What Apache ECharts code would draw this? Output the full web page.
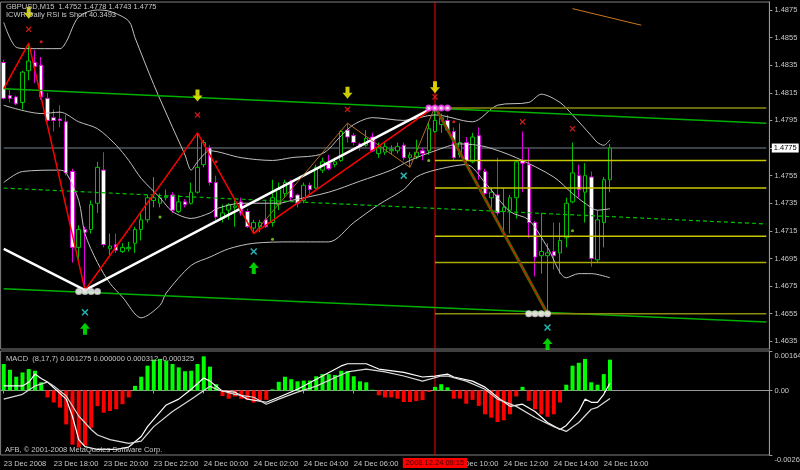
<!DOCTYPE html>
<html><head><meta charset="utf-8">
<script src="https://cdn.jsdelivr.net/npm/echarts@6.0.0/dist/echarts.min.js"></script>
<style>html,body{margin:0;padding:0;background:#000}#c{width:800px;height:470px}</style>
</head><body><div id="c"></div>
<script>
// ---------- DATA ----------
const candleOpen = [1.4837,1.4813,1.4812,1.4808,1.4831,1.4837,1.4835,1.4811,1.4797,1.4796,1.4794,1.4758,1.4703,1.4716,1.4716,1.4735,1.4759,1.4702,1.4705,1.4700,1.4702,1.4706,1.4716,1.4723,1.4737,1.4735,1.4739,1.4741,1.4729,1.4736,1.4735,1.4743,1.4763,1.4775,1.4750,1.4724,1.4730,1.4732,1.4736,1.4729,1.4717,1.4718,1.4723,1.4721,1.4734,1.4742,1.4750,1.4741,1.4737,1.4748,1.4746,1.4759,1.4764,1.4763,1.4766,1.4788,1.4784,1.4778,1.4777,1.4783,1.4771,1.4772,1.4773,1.4773,1.4777,1.4768,1.4769,1.4773,1.4773,1.4787,1.4792,1.4795,1.4787,1.4770,1.4779,1.4765,1.4784,1.4758,1.4739,1.4741,1.4729,1.4730,1.4739,1.4766,1.4763,1.4721,1.4697,1.4697,1.4700,1.4699,1.4710,1.4736,1.4755,1.4743,1.4754,1.4694,1.4721,1.4752];
const candleClose = [1.4811,1.4811,1.4807,1.4830,1.4838,1.4834,1.4812,1.4795,1.4795,1.4795,1.4757,1.4703,1.4716,1.4714,1.4734,1.4761,1.4705,1.4704,1.4701,1.4703,1.4703,1.4716,1.4723,1.4739,1.4739,1.4739,1.4740,1.4730,1.4736,1.4734,1.4743,1.4761,1.4779,1.4750,1.4725,1.4728,1.4734,1.4733,1.4728,1.4718,1.4721,1.4721,1.4718,1.4739,1.4745,1.4750,1.4739,1.4735,1.4748,1.4745,1.4761,1.4765,1.4760,1.4765,1.4787,1.4783,1.4779,1.4776,1.4782,1.4773,1.4775,1.4776,1.4774,1.4776,1.4768,1.4770,1.4772,1.4771,1.4789,1.4795,1.4797,1.4788,1.4768,1.4779,1.4766,1.4783,1.4759,1.4742,1.4743,1.4728,1.4732,1.4739,1.4765,1.4764,1.4721,1.4696,1.4700,1.4699,1.4697,1.4708,1.4735,1.4757,1.4745,1.4755,1.4695,1.4723,1.4752,1.4775];
const candleLow = [1.4810,1.4808,1.4806,1.4803,1.4824,1.4822,1.4810,1.4794,1.4787,1.4790,1.4755,1.4692,1.4694,1.4672,1.4713,1.4728,1.4703,1.4697,1.4699,1.4699,1.4700,1.4699,1.4708,1.4721,1.4732,1.4732,1.4737,1.4728,1.4728,1.4732,1.4734,1.4742,1.4761,1.4748,1.4723,1.4721,1.4723,1.4718,1.4726,1.4717,1.4713,1.4714,1.4717,1.4718,1.4730,1.4739,1.4737,1.4732,1.4735,1.4742,1.4745,1.4757,1.4759,1.4761,1.4765,1.4779,1.4777,1.4773,1.4776,1.4772,1.4768,1.4770,1.4770,1.4771,1.4766,1.4761,1.4767,1.4766,1.4770,1.4786,1.4786,1.4787,1.4766,1.4768,1.4765,1.4764,1.4752,1.4741,1.4730,1.4726,1.4713,1.4713,1.4724,1.4743,1.4710,1.4682,1.4684,1.4655,1.4687,1.4684,1.4703,1.4735,1.4739,1.4721,1.4689,1.4692,1.4703,1.4743];
const candleHigh = [1.4839,1.4817,1.4813,1.4831,1.4851,1.4846,1.4841,1.4815,1.4803,1.4806,1.4799,1.4760,1.4719,1.4718,1.4737,1.4765,1.4772,1.4713,1.4713,1.4706,1.4707,1.4718,1.4728,1.4741,1.4754,1.4742,1.4745,1.4743,1.4741,1.4738,1.4750,1.4786,1.4781,1.4777,1.4755,1.4734,1.4735,1.4739,1.4739,1.4731,1.4723,1.4723,1.4737,1.4752,1.4750,1.4752,1.4752,1.4742,1.4750,1.4750,1.4763,1.4768,1.4770,1.4768,1.4788,1.4793,1.4786,1.4779,1.4788,1.4786,1.4779,1.4779,1.4777,1.4779,1.4779,1.4772,1.4781,1.4775,1.4794,1.4805,1.4800,1.4799,1.4790,1.4793,1.4783,1.4786,1.4790,1.4760,1.4746,1.4768,1.4746,1.4741,1.4766,1.4787,1.4775,1.4722,1.4728,1.4706,1.4721,1.4721,1.4739,1.4779,1.4763,1.4764,1.4758,1.4730,1.4754,1.4778];

const bbUpper = [[0,1.4866],[2,1.4848],[4,1.4847],[9,1.4847],[10,1.4852],[12,1.4870],[15,1.4875],[17,1.4874],[20,1.4867],[21,1.4855],[24,1.4821],[27,1.4790],[29,1.4770],[30,1.4759],[31,1.4765],[33,1.4773],[38,1.4768],[43,1.4766],[46,1.4768],[51,1.4771],[54,1.4784],[56,1.4792],[59,1.4797],[64,1.4795],[69,1.4799],[75,1.4794],[79,1.4806],[84,1.4808],[86,1.4814],[89,1.4808],[91,1.4799],[94,1.4784],[95,1.4779],[96,1.4777],[97,1.4781]];
const bbMiddle = [[0,1.4806],[6,1.4800],[9,1.4801],[12,1.4794],[15,1.4789],[18,1.4777],[20,1.4766],[22,1.4753],[25,1.4739],[27,1.4729],[30,1.4724],[33,1.4728],[34,1.4731],[38,1.4735],[44,1.4735],[46,1.4737],[52,1.4743],[57,1.4751],[62,1.4759],[65,1.4766],[69,1.4773],[73,1.4778],[77,1.4776],[82,1.4768],[88,1.4754],[91,1.4742],[93,1.4735],[95,1.4730],[97,1.4731]];
const bbLower = [[0,1.4750],[3,1.4758],[9,1.4759],[10,1.4757],[12,1.4737],[13,1.4713],[15,1.4692],[17,1.4677],[19,1.4667],[22,1.4652],[25,1.4661],[26,1.4670],[30,1.4690],[33,1.4696],[36,1.4702],[40,1.4706],[46,1.4707],[52,1.4707],[56,1.4721],[60,1.4734],[64,1.4745],[66,1.4754],[69,1.4759],[74,1.4763],[77,1.4750],[81,1.4729],[84,1.4723],[87,1.4703],[90,1.4681],[92,1.4684],[94,1.4684],[97,1.4681]];

const zigzagRed = [[0,1.4818],[4,1.4851],[13,1.4672],[31,1.4786],[40,1.4713],[69,1.4805]];
const zigzagBrown = [[40,1.4713],[55,1.4793],[65,1.4761],[69,1.4805]];
const downLeg = [[69,1.4805],[87,1.4655]];
const whiteTrend = [[0,1.4702],[13,1.4672],[69,1.4805]];
const channelUpper = [[0,1.4818],[122,1.4793]];
const channelLower = [[0,1.4673],[122,1.4649]];
const channelMid = [[0,1.4746],[122,1.4720]];
const fibLevels = [1.4804,1.4766,1.4746,1.4711,1.4692,1.4655];
const fibStart = 69, fibEnd = 122;
const orangeLine = [[91,1.4876],[102,1.4864]];

const yellowArrows = [[4,1.4873],[31,1.4813],[55,1.4815],[69,1.4819]];
const redCrosses = [[4,1.4861],[31,1.4799],[55,1.4803],[69,1.4812],[83,1.4794],[91,1.4789]];
const cyanCrosses = [[13,1.4656],[40,1.4700],[64,1.4755],[87,1.4645]];
const greenArrows = [[13,1.4644],[40,1.4688],[87,1.4633]];
const whiteCircles = [[12,1.4671],[13,1.4671],[14,1.4671],[15,1.4671],[84,1.4655],[85,1.4655],[86,1.4655],[87,1.4655]];
const magentaCircles = [[68,1.4804],[69,1.4804],[70,1.4804],[71,1.4804]];
const greenDots = [[25,1.4725],[43,1.4709],[68,1.4766],[91,1.4715]];
const redDots = [[6,1.4852],[34,1.4765],[72,1.4794]];

const macdHist = [0.00110,0.00086,0.00057,0.00075,0.00089,0.00082,0.00034,-0.00029,-0.00050,-0.00071,-0.00141,-0.00225,-0.00237,-0.00229,-0.00155,-0.00065,-0.00092,-0.00085,-0.00078,-0.00057,-0.00029,0.00019,0.00057,0.00103,0.00128,0.00131,0.00124,0.00110,0.00096,0.00080,0.00082,0.00110,0.00142,0.00099,0.00026,-0.00023,-0.00034,-0.00025,-0.00034,-0.00039,-0.00050,-0.00044,-0.00039,0.00005,0.00036,0.00057,0.00047,0.00038,0.00041,0.00041,0.00059,0.00068,0.00068,0.00064,0.00082,0.00080,0.00059,0.00038,0.00034,0.00003,-0.00020,-0.00029,-0.00029,-0.00034,-0.00048,-0.00048,-0.00044,-0.00040,-0.00006,0.00015,0.00026,0.00013,-0.00034,-0.00034,-0.00055,-0.00039,-0.00064,-0.00099,-0.00113,-0.00131,-0.00124,-0.00099,-0.00025,0.00015,-0.00043,-0.00078,-0.00099,-0.00109,-0.00099,-0.00050,0.00024,0.00103,0.00115,0.00131,0.00034,0.00024,0.00068,0.00128];
const macdLineA = [[0,0.00019],[3,0.00019],[4,0.00034],[5,0.00068],[6,0.00050],[7,0.00035],[10,-0.00036],[11,-0.00108],[12,-0.00204],[13,-0.00233],[15,-0.00245],[18,-0.00245],[20,-0.00235],[22,-0.00191],[23,-0.00150],[24,-0.00120],[26,-0.00060],[28,-0.00036],[30,0.00005],[32,0.00052],[33,0.00039],[35,-0.00003],[37,-0.00007],[39,-0.00036],[42,-0.00049],[44,-0.00028],[47,0.00005],[50,0.00047],[54,0.00102],[55,0.00111],[58,0.00111],[60,0.00089],[64,0.00075],[67,0.00056],[69,0.00060],[71,0.00068],[72,0.00056],[75,0.00039],[77,0.00014],[79,-0.00028],[81,-0.00066],[83,-0.00057],[85,-0.00087],[87,-0.00133],[89,-0.00162],[90,-0.00145],[92,-0.00087],[93,-0.00036],[94,-0.00049],[95,-0.00049],[96,-0.00016],[97,0.00031]];
const macdLineB = [[0,-0.00036],[3,-0.00016],[5,0.00019],[7,0.00035],[8,0.00019],[10,-0.00023],[12,-0.00106],[14,-0.00162],[15,-0.00185],[17,-0.00204],[20,-0.00220],[22,-0.00210],[24,-0.00150],[27,-0.00087],[30,-0.00036],[33,0.00018],[34,0.00005],[37,-0.00016],[40,-0.00028],[42,-0.00057],[44,-0.00036],[47,-0.00007],[50,0.00018],[55,0.00077],[58,0.00089],[61,0.00077],[64,0.00060],[67,0.00039],[70,0.00060],[71,0.00060],[74,0.00039],[77,0.00005],[79,-0.00036],[82,-0.00066],[85,-0.00112],[88,-0.00150],[90,-0.00170],[92,-0.00133],[94,-0.00078],[95,-0.00070],[97,-0.00033]];

const priceTicks = [1.4875,1.4855,1.4835,1.4815,1.4795,1.4775,1.4755,1.4735,1.4715,1.4695,1.4675,1.4655,1.4635];
const macdTicks = [0.00164, 0, -0.00268];
const macdTickLabels = ['0.00164','0.00','-0.00268'];
const timeTickLabels = ['23 Dec 2008','23 Dec 18:00','23 Dec 20:00','23 Dec 22:00','24 Dec 00:00','24 Dec 02:00','24 Dec 04:00','24 Dec 06:00','24 Dec 08:00','24 Dec 10:00','24 Dec 12:00','24 Dec 14:00','24 Dec 16:00'];
const markerTimeIndex = 69;
const markerTimeLabel = '2008.12.24 09:15';
const bidPrice = 1.4775;
const headerLine1 = 'GBPUSD,M15  1.4752 1.4778 1.4743 1.4775';
const headerLine2 = 'ICWR Daily RSI is Short 40.3493';
const macdTitle = 'MACD  (8,17,7) 0.001275 0.000000 0.000312 -0.000325';
const copyright = 'AFB, \u00A9 2001-2008 MetaQuotes Software Corp.';

// ---------- BUILD ----------
const slotCount = 123, barStep = 8;
const priceMin = 1.46294, priceMax = 1.48808;
const macdMin = -0.00268, macdMax = 0.00164;
const start = Date.UTC(2008, 11, 23, 16, 0);
const pad = n => String(n).padStart(2, '0');
const categories = [];
for (let i = 0; i < slotCount; i++) {
  const d = new Date(start + i * 15 * 60000);
  categories.push(d.getUTCFullYear() + '.' + pad(d.getUTCMonth() + 1) + '.' + pad(d.getUTCDate()) + ' ' + pad(d.getUTCHours()) + ':' + pad(d.getUTCMinutes()));
}
const candles = candleOpen.map((o, i) => [o, candleClose[i], candleLow[i], candleHigh[i]]);

const FONT = 'Liberation Sans';
const FS = 7.5;
const FONTCSS = FS + 'px "' + FONT + '"';
const TXT = '#c8c8c8';
const GRAYAX = '#9a9a9a';

const downArrow = 'path://M3,0 L7,0 L7,6 L10,6 L5,12 L0,6 L3,6 Z';
const upArrow = 'path://M5,0 L10,6 L7,6 L7,12 L3,12 L3,6 L0,6 Z';
const cross = 'path://M0,1.5 L1.5,0 L5,3.5 L8.5,0 L10,1.5 L6.5,5 L10,8.5 L8.5,10 L5,6.5 L1.5,10 L0,8.5 L3.5,5 Z';

function lineS(data, color, width, extra) {
  return Object.assign({ type: 'line', xAxisIndex: 0, yAxisIndex: 0, data: data, symbol: 'none', silent: true,
    lineStyle: { color: color, width: width }, z: 3 }, extra || {});
}
function scat(data, symbol, size, color, extra) {
  return Object.assign({ type: 'scatter', xAxisIndex: 0, yAxisIndex: 0, data: data, symbol: symbol, symbolSize: size,
    itemStyle: { color: color }, z: 6, silent: true }, extra || {});
}

const series = [
  lineS([[0, bidPrice], [slotCount - 1, bidPrice]], '#4e585e', 1.5, { z: 1 }),
  lineS([[markerTimeIndex, priceMin], [markerTimeIndex, priceMax]], '#ff0000', 1, { z: 1 }),
  { type: 'candlestick', xAxisIndex: 0, yAxisIndex: 0, data: candles, barWidth: 4, z: 2,
    itemStyle: { color: '#000000', color0: '#ffffff', borderColor: '#00c000', borderColor0: '#e000e0', borderWidth: 1 } },
  lineS(bbUpper, '#c0c0c0', 1, { smooth: 0.3 }),
  lineS(bbMiddle, '#c0c0c0', 1, { smooth: 0.3 }),
  lineS(bbLower, '#c0c0c0', 1, { smooth: 0.3 }),
  lineS(channelUpper, '#00b000', 1.5),
  lineS(channelLower, '#00b000', 1.5),
  lineS(channelMid, '#00c000', 1.2, { lineStyle: { color: '#00c000', width: 1.2, type: [4, 3] } }),
];
fibLevels.forEach((lv, k) => {
  const outer = (k === 0 || k === fibLevels.length - 1);
  series.push(lineS([[fibStart, lv], [fibEnd, lv]], outer ? '#8c8c10' : (k === 4 ? '#aaaa00' : '#c8c800'), 1.5));
});
series.push(
  lineS(whiteTrend, '#ffffff', 2.5),
  lineS(zigzagBrown, '#b06a28', 1),
  lineS(zigzagRed, '#ff0000', 1.5),
  lineS(downLeg, '#4a6200', 3),
  lineS(downLeg, '#d02000', 1),
  lineS(orangeLine, '#c8781e', 1),
  scat(yellowArrows, downArrow, [10, 12], '#ffff00'),
  scat(redCrosses, cross, 6, '#ff2020'),
  scat(cyanCrosses, cross, 7, '#30e0e0'),
  scat(greenArrows, upArrow, [10, 12], '#00ff00'),
  scat(whiteCircles, 'emptyCircle', 5, '#e0e0e0', { itemStyle: { color: '#e0e0e0', borderColor: '#e0e0e0', borderWidth: 1.5 } }),
  scat(magentaCircles, 'emptyCircle', 5, '#ff40ff', { itemStyle: { color: '#ff40ff', borderColor: '#ff40ff', borderWidth: 1.5 } }),
  scat(greenDots, 'circle', 3, '#90e020'),
  scat(redDots, 'circle', 3, '#ff2020'),
  { type: 'line', xAxisIndex: 1, yAxisIndex: 1, data: [[markerTimeIndex, macdMin], [markerTimeIndex, macdMax]], symbol: 'none', silent: true,
    lineStyle: { color: '#ff0000', width: 1 }, z: 1 },
  { type: 'bar', xAxisIndex: 1, yAxisIndex: 1, data: macdHist, barWidth: 4, silent: true,
    itemStyle: { color: p => p.value >= 0 ? '#00ff00' : '#ff0000' } },
  { type: 'line', xAxisIndex: 1, yAxisIndex: 1, data: macdLineA, symbol: 'none', silent: true, lineStyle: { color: '#ffffff', width: 1.2 } },
  { type: 'line', xAxisIndex: 1, yAxisIndex: 1, data: macdLineB, symbol: 'none', silent: true, lineStyle: { color: '#d8d8d8', width: 1.2 } }
);

const tickFn = idx => idx % barStep === 0 && idx / barStep < timeTickLabels.length;

const baseGraphic = [
  { type: 'text', left: 6, top: 3, z: 100, silent: true, style: { text: headerLine1, fill: TXT, font: FONTCSS } },
  { type: 'text', left: 6, top: 11, z: 100, silent: true, style: { text: headerLine2, fill: TXT, font: FONTCSS } },
  { type: 'text', left: 6, top: 355, z: 100, silent: true, style: { text: macdTitle, fill: TXT, font: FONTCSS } },
  { type: 'text', left: 5, top: 446, z: 100, silent: true, style: { text: copyright, fill: TXT, font: FONTCSS } }
];

const option = {
  backgroundColor: '#000000',
  animation: false,
  textStyle: { fontFamily: FONT },
  grid: [
    { left: 0.6, width: 768.8, top: 2, height: 347, containLabel: false, outerBoundsMode: 'none', show: true, borderColor: '#808080', borderWidth: 1, backgroundColor: '#000' },
    { left: 0.6, width: 768.8, top: 351, height: 104, containLabel: false, outerBoundsMode: 'none', show: true, borderColor: '#808080', borderWidth: 1, backgroundColor: '#000' }
  ],
  xAxis: [
    { type: 'category', gridIndex: 0, data: categories, boundaryGap: true, axisLine: { show: false }, axisTick: { show: false }, axisLabel: { show: false }, splitLine: { show: false } },
    { type: 'category', gridIndex: 1, data: categories, boundaryGap: true,
      axisLine: { show: true, lineStyle: { color: GRAYAX } },
      axisTick: { show: true, alignWithLabel: true, interval: tickFn, length: 3, lineStyle: { color: GRAYAX } },
      axisLabel: { show: true, interval: tickFn, formatter: (v, idx) => timeTickLabels[idx / barStep], align: 'left',
        color: TXT, fontFamily: FONT, fontSize: FS, margin: 5 },
      splitLine: { show: false } }
  ],
  yAxis: [
    { type: 'value', gridIndex: 0, position: 'right', min: priceMin, max: priceMax,
      axisLine: { show: true, lineStyle: { color: GRAYAX } },
      axisTick: { show: true, length: 3, customValues: priceTicks, lineStyle: { color: GRAYAX } },
      axisLabel: { show: true, customValues: priceTicks, formatter: v => v.toFixed(4), color: TXT, fontFamily: FONT, fontSize: FS, margin: 5 },
      splitLine: { show: false } },
    { type: 'value', gridIndex: 1, position: 'right', min: macdMin, max: macdMax,
      axisLine: { show: true, lineStyle: { color: GRAYAX } },
      axisTick: { show: true, length: 3, customValues: macdTicks, lineStyle: { color: GRAYAX } },
      axisLabel: { show: true, customValues: macdTicks, color: TXT, fontFamily: FONT, fontSize: FS, margin: 5,
        formatter: v => { const k = macdTicks.findIndex(t => Math.abs(t - v) < 1e-7); const s = macdTickLabels[k];
          return k === 1 ? s : '{low|' + s + '}'; },
        rich: { low: { padding: [10, 0, 0, 0], color: TXT, fontFamily: FONT, fontSize: FS } } },
      splitLine: { show: false } }
  ],
  graphic: baseGraphic,
  series: series
};
const chart = echarts.init(document.getElementById('c'), null, { renderer: 'canvas' });
chart.setOption(option);

// labels that sit on the scales: bid price box and vertical-line time box
const bidPx = chart.convertToPixel({ xAxisIndex: 0, yAxisIndex: 0 }, [0, bidPrice]);
const timePx = chart.convertToPixel({ xAxisIndex: 1, yAxisIndex: 1 }, [markerTimeIndex, 0]);
const axisBottom = chart.convertToPixel({ xAxisIndex: 1, yAxisIndex: 1 }, [0, macdMin]);
const axisRight = chart.convertToPixel({ xAxisIndex: 0, yAxisIndex: 0 }, [slotCount - 1, bidPrice]);
chart.setOption({ graphic: baseGraphic.concat([
  { type: 'text', x: axisRight[0] + 5.5, y: bidPx[1], z: 100, silent: true,
    style: { text: bidPrice.toFixed(4), fill: '#000000', backgroundColor: '#ffffff', padding: [1, 2, 0, 2], font: FONTCSS, align: 'left', verticalAlign: 'middle' } },
  { type: 'text', x: timePx[0], y: axisBottom[1] + 3, z: 100, silent: true,
    style: { text: markerTimeLabel, fill: '#3a0000', backgroundColor: '#ff0000', padding: [1, 3, 1, 3], font: FONTCSS, align: 'center', verticalAlign: 'top' } }
]) });
</script></body></html>
